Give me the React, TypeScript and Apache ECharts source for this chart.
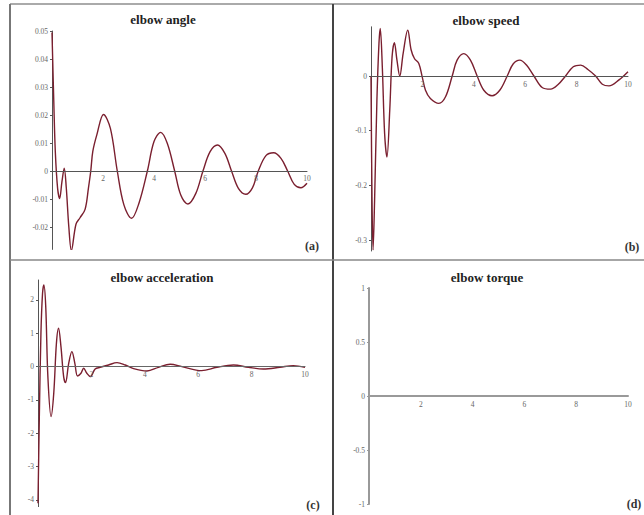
import React, { useEffect, useRef } from "react";
import * as echarts from "echarts";

// (a) elbow angle
const angleT = [0, 0.07, 0.13, 0.22, 0.3, 0.39, 0.48, 0.56, 0.66, 0.76, 0.94, 1.1, 1.3, 1.43, 1.52, 1.6, 1.76, 2.02, 2.29, 2.56, 2.82, 3.12, 3.41, 3.74, 4.0, 4.26, 4.52, 4.81, 5.05, 5.33, 5.64, 5.92, 6.2, 6.49, 6.78, 7.04, 7.31, 7.6, 7.86, 8.09, 8.39, 8.69, 8.98, 9.24, 9.5, 9.76, 10];
const angleV = [0.0495, 0.0248, 0.0069, -0.0062, -0.0098, -0.0038, 0.001, -0.006, -0.02, -0.0284, -0.019, -0.0167, -0.0136, -0.006, 0, 0.007, 0.013, 0.0202, 0.0152, 0, -0.0121, -0.0169, -0.0115, 0, 0.0105, 0.0138, 0.0099, 0, -0.0086, -0.0118, -0.008, 0, 0.0069, 0.0093, 0.0063, 0, -0.0062, -0.0083, -0.006, 0, 0.0055, 0.0065, 0.0045, 0, -0.0048, -0.006, -0.0044];

// (b) elbow speed
const speedT = [0, 0.04, 0.08, 0.14, 0.23, 0.31, 0.36, 0.44, 0.53, 0.62, 0.73, 0.82, 0.91, 1.01, 1.12, 1.25, 1.43, 1.56, 1.69, 1.86, 1.99, 2.12, 2.31, 2.64, 2.9, 3.16, 3.35, 3.61, 3.87, 4.13, 4.39, 4.71, 5.01, 5.3, 5.53, 5.79, 6.05, 6.34, 6.66, 6.99, 7.27, 7.57, 7.87, 8.16, 8.44, 8.74, 9.0, 9.26, 9.65, 10];
const speedV = [0, -0.227, -0.318, -0.227, -0.044, 0.06, 0.087, 0.017, -0.105, -0.148, -0.062, 0.035, 0.061, 0.029, 0, 0.041, 0.084, 0.048, 0.032, 0.023, -0.001, -0.026, -0.041, -0.05, -0.038, 0, 0.029, 0.041, 0.029, 0, -0.026, -0.036, -0.026, 0, 0.022, 0.029, 0.02, 0, -0.021, -0.024, -0.016, 0, 0.017, 0.02, 0.012, 0, -0.015, -0.018, -0.007, 0.008];

// (c) elbow acceleration
const accT = [0, 0.05, 0.11, 0.17, 0.22, 0.29, 0.37, 0.49, 0.59, 0.69, 0.77, 0.86, 0.96, 1.03, 1.15, 1.27, 1.38, 1.48, 1.61, 1.71, 1.83, 1.96, 2.14, 2.33, 2.64, 2.96, 3.27, 3.58, 4.08, 4.51, 4.95, 5.39, 6.13, 6.7, 7.32, 7.88, 8.44, 9.06, 9.56, 10];
const accV = [-4.1, -1.5, 1.0, 2.2, 2.45, 1.8, -0.3, -1.5, -0.8, 0.7, 1.15, 0.6, -0.3, -0.48, 0.1, 0.45, 0.1, -0.28, -0.2, -0.05, -0.2, -0.3, -0.07, -0.02, 0.05, 0.12, 0.05, -0.06, -0.13, -0.02, 0.07, 0, -0.12, -0.02, 0.05, -0.02, -0.07, -0.02, 0.03, -0.02];

// (d) elbow torque
const torqueT = [0, 10];
const torqueV = [0, 0];

const xTicks = [2, 4, 6, 8, 10];
const angleTicks = [-0.02, -0.01, 0, 0.01, 0.02, 0.03, 0.04, 0.05];
const speedTicks = [-0.3, -0.2, -0.1, 0];
const accTicks = [-4, -3, -2, -1, 0, 1, 2];
const torqueTicks = [-1, -0.5, 0, 0.5, 1];

const titles = ["elbow angle", "elbow speed", "elbow acceleration", "elbow torque"];
const panelTags = ["(a)", "(b)", "(c)", "(d)"];

const pairs = (t: number[], v: number[]) => t.map((x, i) => [x, v[i]]);

const SERIF = "'Liberation Serif', 'DejaVu Serif', serif";
const CURVE = "#7a1f2f";

function xAxisFor(idx: number, color: string, width: number, margin: number) {
  return {
    type: "value",
    gridIndex: idx,
    min: 0,
    max: 10,
    z: 5,
    axisLine: { show: true, onZero: true, lineStyle: { color, width } },
    axisTick: { show: false },
    splitLine: { show: false },
    axisLabel: {
      customValues: xTicks,
      fontSize: 7.5,
      color: "#666",
      fontFamily: SERIF,
      margin,
      hideOverlap: false,
    },
  };
}

function yAxisFor(idx: number, min: number, max: number, ticks: number[], color: string, width: number) {
  return {
    type: "value",
    gridIndex: idx,
    min,
    max,
    axisLine: { show: true, onZero: false, lineStyle: { color, width } },
    axisTick: { show: true, length: 2, customValues: ticks, lineStyle: { color } },
    splitLine: { show: false },
    axisLabel: {
      customValues: ticks,
      fontSize: 7.5,
      color: "#666",
      fontFamily: SERIF,
      margin: 4,
      formatter: (v: number) => String(v),
    },
  };
}

export default function App() {
  const ref = useRef<HTMLDivElement>(null);
  useEffect(() => {
    const chart = echarts.init(ref.current!, null, { renderer: "svg" });
    const lineSeries = (idx: number, t: number[], v: number[], color: string, width: number) => ({
      type: "line",
      xAxisIndex: idx,
      yAxisIndex: idx,
      data: pairs(t, v),
      showSymbol: false,
      smooth: 0.35,
      lineStyle: { color, width },
      z: 2,
    });
    const titlePos = [
      [163, 19],
      [486, 20],
      [162, 277],
      [487, 277],
    ];
    const tagPos = [
      [312, 246],
      [632, 247],
      [313, 505],
      [634, 504],
    ];
    chart.setOption({
      animation: false,
      backgroundColor: "#ffffff",
      grid: [
        { left: 52, top: 31, width: 255, height: 218.4, outerBoundsMode: "none" },
        { left: 371, top: 26.8, width: 257, height: 224.2, outerBoundsMode: "none" },
        { left: 38, top: 280, width: 267, height: 226.6, outerBoundsMode: "none" },
        { left: 369, top: 288, width: 259, height: 216, outerBoundsMode: "none" },
      ],
      xAxis: [
        xAxisFor(0, "#555", 1, -75.4),
        xAxisFor(1, "#555", 1, -171),
        xAxisFor(2, "#666", 1, -136),
        xAxisFor(3, "#999", 2, -104),
      ],
      yAxis: [
        yAxisFor(0, -0.028, 0.05, angleTicks, "#555", 1),
        yAxisFor(1, -0.32, 0.09, speedTicks, "#555", 1),
        yAxisFor(2, -4.2, 2.6, accTicks, "#555", 1),
        yAxisFor(3, -1, 1, torqueTicks, "#999", 2),
      ],
      series: [
        lineSeries(0, angleT, angleV, CURVE, 1.4),
        lineSeries(1, speedT, speedV, CURVE, 1.4),
        lineSeries(2, accT, accV, CURVE, 1.4),
        lineSeries(3, torqueT, torqueV, "#999", 2),
      ],
      graphic: [
        { type: "line", shape: { x1: 10, y1: 4, x2: 644, y2: 4 }, style: { stroke: "#aaa", lineWidth: 2 } },
        { type: "line", shape: { x1: 10, y1: 4, x2: 10, y2: 515 }, style: { stroke: "#777", lineWidth: 2 } },
        { type: "line", shape: { x1: 333, y1: 4, x2: 333, y2: 515 }, style: { stroke: "#444", lineWidth: 2 } },
        { type: "line", shape: { x1: 10, y1: 260, x2: 644, y2: 260 }, style: { stroke: "#888", lineWidth: 1.5 } },
        ...titles.map((t, i) => ({
          type: "text",
          x: titlePos[i][0],
          y: titlePos[i][1],
          style: {
            text: t,
            fill: "#222",
            font: `bold 13px ${SERIF}`,
            textAlign: "center",
            textVerticalAlign: "middle",
          },
        })),
        ...panelTags.map((t, i) => ({
          type: "text",
          x: tagPos[i][0],
          y: tagPos[i][1],
          style: {
            text: t,
            fill: "#333",
            font: `bold 12px ${SERIF}`,
            textAlign: "center",
            textVerticalAlign: "middle",
          },
        })),
      ],
    });
    return () => chart.dispose();
  }, []);
  return (
    <div
      ref={ref}
      style={{ position: "fixed", left: 0, top: 0, width: 644, height: 515, background: "#fff" }}
    />
  );
}
